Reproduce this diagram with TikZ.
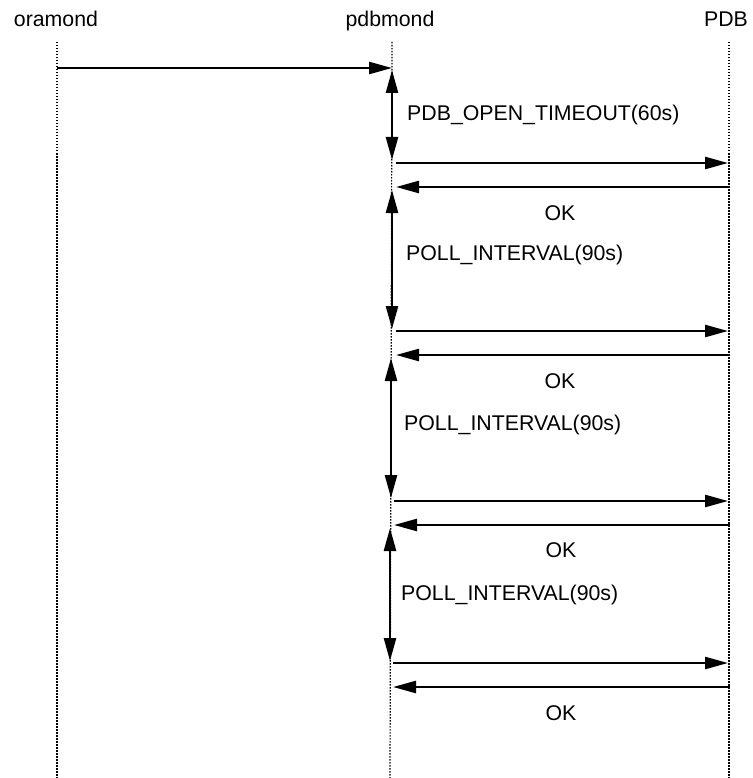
\documentclass[tikz,border=0pt]{standalone}
\usepackage{fontspec}
\setmainfont{Liberation Sans}
\usetikzlibrary{arrows.meta}

\tikzset{
	lifeline/.style={line width=1.2pt, dash pattern=on 1.5pt off 1.5pt},
	msg/.style={line width=2.5pt, -{Triangle[length=23pt,width=12pt]}},
	timespan/.style={line width=2.5pt, {Triangle[length=23pt,width=12pt]}-{Triangle[length=23pt,width=12pt]}},
	lbl/.style={font=\fontsize{21.3}{25}\selectfont, inner sep=0pt},
}

\begin{document}
\begin{tikzpicture}[x=1pt, y=-1pt]
				\useasboundingbox (0,0) rectangle (752,778);

				% Heads
				\node[lbl, anchor=base] (ora) at (56,27) {oramond};
				\node[lbl, anchor=base] (mon) at (390,27) {pdbmond};
				\node[lbl, anchor=base] (pdb) at (726,27) {PDB};

				% Lifelines
				\coordinate (oraTop) at (57,42);
				\coordinate (oraEnd) at (57,778);
				\coordinate (monTop) at (392,42);
				\coordinate (monEnd) at (390,778);
				\coordinate (pdbTop) at (729,42);
				\coordinate (pdbEnd) at (729,778);
				\draw[lifeline] (oraTop) -- (oraEnd);
				\draw[lifeline] (monTop) -- (monEnd);
				\draw[lifeline] (pdbTop) -- (pdbEnd);

				% Start
				\coordinate (c0a) at (57,68);
				\coordinate (c0b) at (392,68);
				\draw[msg] (c0a) -- (c0b);

				% Open timeout
				\coordinate (t0a) at (392,70);
				\coordinate (t0b) at (392,160);
				\draw[timespan] (t0a) -- (t0b);
				\node[lbl, anchor=west] (t0) at (407,115) {PDB\_OPEN\_TIMEOUT(60s)};
				\coordinate (r1a) at (396,163);
				\coordinate (r1b) at (728,163);
				\draw[msg] (r1a) -- (r1b);
				\coordinate (k1a) at (730,187);
				\coordinate (k1b) at (396,187);
				\draw[msg] (k1a) -- (k1b);
				\node[lbl] (ok1) at (560,213) {OK};

				% Poll 1
				\coordinate (t1a) at (392,190);
				\coordinate (t1b) at (392,329);
				\draw[timespan] (t1a) -- (t1b);
				\node[lbl, anchor=west] (t1) at (406,255) {POLL\_INTERVAL(90s)};
				\coordinate (r2a) at (396,331);
				\coordinate (r2b) at (728,331);
				\draw[msg] (r2a) -- (r2b);
				\coordinate (k2a) at (730,355);
				\coordinate (k2b) at (396,355);
				\draw[msg] (k2a) -- (k2b);
				\node[lbl] (ok2) at (560,381) {OK};

				% Poll 2
				\coordinate (t2a) at (391,358);
				\coordinate (t2b) at (391,498);
				\draw[timespan] (t2a) -- (t2b);
				\node[lbl, anchor=west] (t2) at (404,425) {POLL\_INTERVAL(90s)};
				\coordinate (r3a) at (394,501);
				\coordinate (r3b) at (728,501);
				\draw[msg] (r3a) -- (r3b);
				\coordinate (k3a) at (730,525);
				\coordinate (k3b) at (394,525);
				\draw[msg] (k3a) -- (k3b);
				\node[lbl] (ok3) at (561,550) {OK};

				% Poll 3
				\coordinate (t3a) at (390,528);
				\coordinate (t3b) at (390,661);
				\draw[timespan] (t3a) -- (t3b);
				\node[lbl, anchor=west] (t3) at (401,595) {POLL\_INTERVAL(90s)};
				\coordinate (r4a) at (393,663);
				\coordinate (r4b) at (728,663);
				\draw[msg] (r4a) -- (r4b);
				\coordinate (k4a) at (730,687);
				\coordinate (k4b) at (393,687);
				\draw[msg] (k4a) -- (k4b);
				\node[lbl] (ok4) at (561,713) {OK};
\end{tikzpicture}
\end{document}
